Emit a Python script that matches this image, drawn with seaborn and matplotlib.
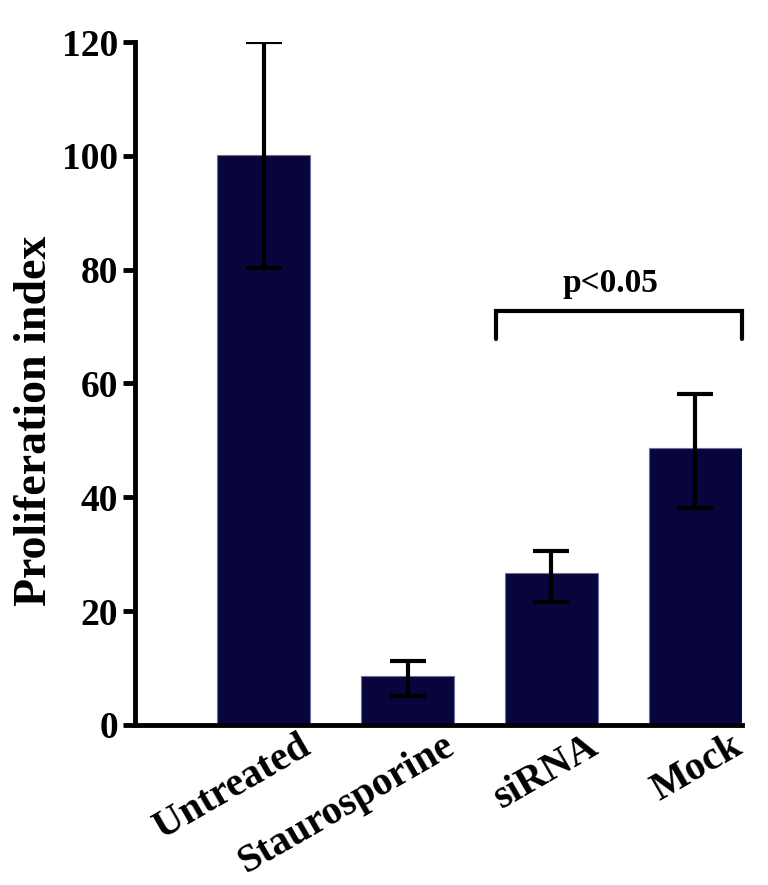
import numpy as np
import pandas as pd
import matplotlib
matplotlib.use("Agg")
import matplotlib.pyplot as plt
import matplotlib.transforms as mtransforms
import seaborn as sns

# ── data ─────────────────────────────────────────────────────────────────
groups = ["Untreated", "Staurosporine", "siRNA", "Mock"]
means = [100.2, 8.5, 26.7, 48.6]
err_low = [20.0, 3.4, 5.2, 10.5]
err_high = [19.8, 2.7, 3.9, 9.6]
y_ticks = [0, 20, 40, 60, 80, 100, 120]

BAR = "#08053d"

sns.set_theme(style="ticks")
plt.rcParams["font.family"] = ["Liberation Serif", "DejaVu Serif"]
plt.rcParams["font.weight"] = "bold"
plt.rcParams["text.color"] = "black"
plt.rcParams["xtick.color"] = "black"
plt.rcParams["ytick.color"] = "black"
plt.rcParams["axes.labelcolor"] = "black"
plt.rcParams["axes.edgecolor"] = "black"

df = pd.DataFrame({"group": groups, "value": means})

fig = plt.figure(figsize=(7.68, 8.85), dpi=100)
ax = fig.add_axes([0.176, 0.181, 0.79, 0.7715])

sns.barplot(data=df, x="group", y="value", color=BAR, saturation=1,
            width=0.645, edgecolor="#7070a0", linewidth=0.8,
            errorbar=None, ax=ax)

ax.errorbar(np.arange(len(groups)), means, yerr=[err_low, err_high],
            fmt="none", ecolor="black", elinewidth=3, capsize=13,
            capthick=3, zorder=3)

# significance bracket
bx0, bx1, by, bdrop = 1.615, 3.323, 72.7, 4.9
ax.plot([bx0, bx0, bx1, bx1], [by - bdrop, by, by, by - bdrop],
        color="black", lw=3, solid_joinstyle="miter", clip_on=False)
ax.text((bx0 + bx1) / 2 - 0.06, by + 2.2, "p<0.05", ha="center",
        va="bottom", fontsize=24, fontweight="bold")

ax.set_xlim(-0.892, 3.323)
ax.set_ylim(0, 120)
ax.set_yticks(y_ticks)
ax.set_xlabel("")
ax.set_ylabel("Proliferation index", fontsize=33, fontweight="bold")
ax.yaxis.set_label_coords(-0.13, 0.445)

ax.tick_params(axis="y", labelsize=27, width=3.5, length=9, direction="out")
ax.tick_params(axis="x", labelsize=29, length=0, pad=2)
shift = mtransforms.ScaledTranslation(0.35, 0, fig.dpi_scale_trans)
for lab in ax.get_xticklabels():
    lab.set_rotation(30)
    lab.set_ha("right")
    lab.set_rotation_mode("anchor")
    lab.set_fontweight("bold")
    lab.set_transform(lab.get_transform() + shift)
for lab in ax.get_yticklabels():
    lab.set_fontweight("bold")

sns.despine(ax=ax)
for side in ["left", "bottom"]:
    ax.spines[side].set_linewidth(3.5)

fig.savefig("out.png", dpi=100)
